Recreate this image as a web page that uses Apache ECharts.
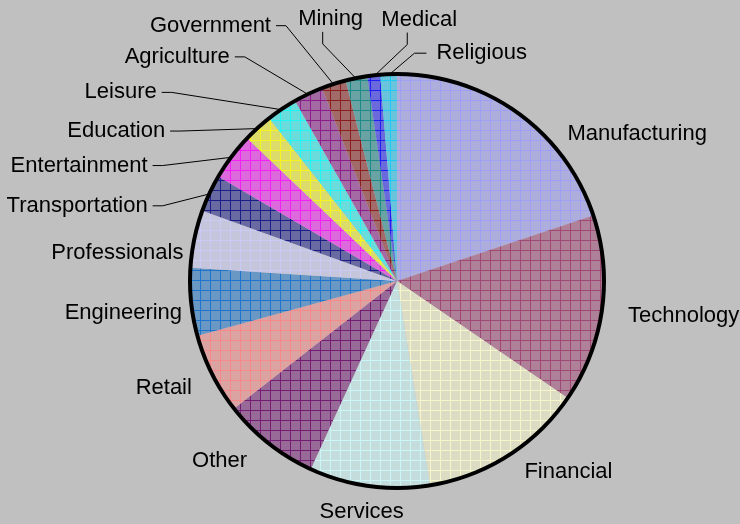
<!DOCTYPE html>
<html><head><meta charset="utf-8">
<script src="https://cdn.jsdelivr.net/npm/echarts@6/dist/echarts.min.js"></script>
<style>html,body{margin:0;padding:0;background:#c0c0c0}#c{width:740px;height:524px}</style>
</head><body><div id="c"></div>
<script>
// ---- data ----
const categories = ["Manufacturing","Technology","Financial","Services","Other","Retail","Engineering","Professionals","Transportation","Entertainment","Education","Leisure","Agriculture","Government","Mining","Medical","Religious"];
const values = [19.9,14.7,12.9,9.4,7.6,6.3,5.3,4.5,2.9,3.7,2.3,2.4,2.3,1.9,1.7,1.0,1.3];

// ---- styles / label layout (kept apart from data) ----
const baseColors = ["#9999ff","#993366","#ffffcc","#ccffff","#660066","#ff8080","#0066cc","#ccccff","#000080","#ff00ff","#ffff00","#00ffff","#800080","#800000","#008080","#0000ff","#00ccff"];
const lineLen1 = [0,5,17,27,23,18,3,3,2,1,2,21,42,59,45,40,28];
const lineLen2 = [45,17,3,0,3,0,2,4,56,79,87,109,56,40,25,38,39];
const labelMode = ["top","plain","plain","center","plain","plain","top","top","elbow","elbow","elbow","elbow","elbow","elbow","up","upMirror","rightMirror"];
const labelDy  = [9,6,3,0,0,6,0,4,13,9,4,0,0,-3,-3,-4,6];
const labelDx  = [0,0,0,-4,0,0,0,0,0,0,0,0,0,0,0,0,0];

function hex(c){return [1,3,5].map(k=>parseInt(c.substr(k,2),16));}
function mix(a,w){return 'rgb('+a.map(v=>Math.round(v*w+192*(1-w))).join(',')+')';}
function makePattern(col){
  const c = document.createElement('canvas');
  c.width = 10; c.height = 10;
  const g = c.getContext('2d');
  const a = hex(col);
  g.fillStyle = mix(a,0.45); g.fillRect(0,0,10,10);
  g.fillStyle = mix(a,0.85);
  g.fillRect(0,0,10,1); g.fillRect(0,0,1,10);
  return c;
}
const FONT = "'Liberation Sans Narrow','Arial Narrow','Liberation Sans',Arial,sans-serif";
const data = categories.map((n,i)=>({
  name:n, value:values[i],
  itemStyle:{color:{image:makePattern(baseColors[i]), repeat:'repeat'}},
  labelLine:{length:lineLen1[i], length2:lineLen2[i],
    lineStyle:{opacity:(labelMode[i]==='plain'||labelMode[i]==='top'||labelMode[i]==='center')?0:1}}
}));

function layoutLabel(p){
  const i = p.dataIndex, mode = labelMode[i], pts = p.labelLinePoints;
  const dy = labelDy[i], dx = labelDx[i];
  if (!pts) return {};
  const p0 = pts[0].slice(), p1 = pts[1].slice(), p2 = pts[2].slice();
  const h = p.labelRect.height;
  if (mode==='plain') return {dx:dx, dy:dy};
  if (mode==='top') return {dx:dx, dy: h/2 + dy};
  if (mode==='center') return {x: p2[0]+dx, y: p2[1]+dy, align:'center'};
  if (mode==='elbow') {
    const s = p2[0] < p0[0] ? 10 : -10;
    const e = [p2[0], p2[1]+dy];
    return {dy:dy, labelLinePoints:[p0,[e[0]+s,e[1]],e]};
  }
  if (mode==='up') {
    const e = [p2[0], p2[1]+dy];
    return {x:e[0]+8, y:e[1]-2, align:'center', verticalAlign:'bottom',
      labelLinePoints:[p0,[e[0],e[1]+12],e]};
  }
  const q = [p1[0] + (p1[0]-p2[0]), p2[1]+dy];
  if (mode==='upMirror') {
    return {x:q[0]+12, y:q[1]-2, align:'center', verticalAlign:'bottom',
      labelLinePoints:[p0,[q[0],q[1]+12],q]};
  }
  if (mode==='rightMirror') {
    return {x:q[0]+10, y:q[1], align:'left', verticalAlign:'middle',
      labelLinePoints:[p0,[q[0]-12,q[1]],q]};
  }
  return {};
}

const chart = echarts.init(document.getElementById('c'), null, {renderer:'canvas'});
chart.setOption({
  backgroundColor:'#c0c0c0',
  animation:false,
  series:[{
    type:'pie', center:[397,281], radius:206, startAngle:90, clockwise:true,
    avoidLabelOverlap:false,
    data:data,
    label:{color:'#000', fontFamily:FONT, fontSize:22, width:200, overflow:'none'},
    labelLine:{show:true, lineStyle:{color:'#000',width:1}},
    labelLayout:layoutLabel,
    itemStyle:{borderWidth:0},
    emphasis:{disabled:true}
  },{
    type:'pie', center:[397,281], radius:[205,209], silent:true,
    label:{show:false}, labelLine:{show:false},
    data:[{value:1,itemStyle:{color:'#000'}}]
  }]
});
</script></body></html>
